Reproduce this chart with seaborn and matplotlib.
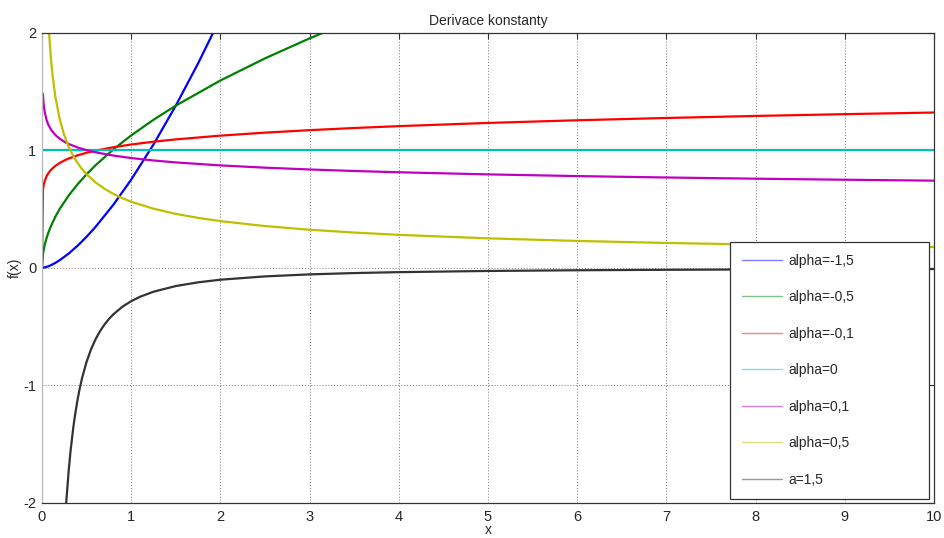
import matplotlib
matplotlib.use("Agg")
import matplotlib.pyplot as plt
import seaborn as sns

# ---- data ----
x_m15 = [0, 0.05, 0.1, 0.15, 0.2, 0.3, 0.4, 0.5, 0.6, 0.8, 1.0, 1.25, 1.5,
         1.75, 2.0, 2.25]
y_m15 = [0, 0.0084, 0.0238, 0.0437, 0.0673, 0.1236, 0.1903, 0.2660, 0.3497,
         0.5383, 0.7523, 1.0513, 1.3820, 1.7416, 2.1277, 2.539]

x_m05 = [0, 0.01, 0.02, 0.03, 0.05, 0.07, 0.1, 0.15, 0.2, 0.3, 0.4, 0.5, 0.6,
         0.8, 1.0, 1.25, 1.5, 2.0, 2.5, 3.0, 3.5]
y_m05 = [0, 0.1128, 0.1596, 0.1955, 0.2523, 0.2986, 0.3568, 0.4370, 0.5046,
         0.6180, 0.7137, 0.7979, 0.8741, 1.0093, 1.1284, 1.2616, 1.3820,
         1.5958, 1.7841, 1.9544, 2.1110]

x_m01 = [0, 0.01, 0.02, 0.03, 0.05, 0.07, 0.1, 0.15, 0.2, 0.25, 0.3, 0.4,
         0.5, 0.6, 0.8, 1.0, 1.25, 1.5, 2.0, 2.5, 3.0, 3.5, 4, 5, 6, 7, 8, 9,
         10]
y_m01 = [0, 0.6632, 0.7108, 0.7402, 0.7790, 0.8057, 0.8349, 0.8695, 0.8948,
         0.9150, 0.9319, 0.9590, 0.9807, 0.9987, 1.0279, 1.0511, 1.0748,
         1.0946, 1.1265, 1.1520, 1.1731, 1.1914, 1.2074, 1.2346, 1.2573,
         1.2768, 1.2940, 1.3093, 1.3232]

x_0 = [0, 10]
y_0 = [1, 1]

x_p01 = [0.01, 0.015, 0.02, 0.03, 0.05, 0.07, 0.1, 0.15, 0.2, 0.25, 0.3, 0.4,
         0.5, 0.6, 0.8, 1.0, 1.25, 1.5, 2.0, 2.5, 3.0, 3.5, 4, 5, 6, 7, 8, 9,
         10]
y_p01 = [1.4832, 1.4242, 1.3839, 1.3289, 1.2627, 1.2208, 1.1781, 1.1313,
         1.0993, 1.0750, 1.0555, 1.0256, 1.0030, 0.9848, 0.9569, 0.9358,
         0.9151, 0.8986, 0.8731, 0.8538, 0.8385, 0.8256, 0.8147, 0.7967,
         0.7823, 0.7703, 0.7601, 0.7512, 0.7433]

x_p05 = [0.05, 0.06, 0.07, 0.08, 0.09, 0.1, 0.12, 0.15, 0.2, 0.25, 0.3, 0.35,
         0.4, 0.45, 0.5, 0.6, 0.7, 0.8, 0.9, 1.0, 1.25, 1.5, 1.75, 2.0, 2.5,
         3.0, 3.5, 4, 5, 6, 7, 8, 9, 10]
y_p05 = [2.5231, 2.3033, 2.1324, 1.9947, 1.8806, 1.7841, 1.6287, 1.4567,
         1.2616, 1.1284, 1.0300, 0.9536, 0.8920, 0.8410, 0.7979, 0.7284,
         0.6743, 0.6308, 0.5947, 0.5642, 0.5046, 0.4607, 0.4265, 0.3989,
         0.3568, 0.3257, 0.3016, 0.2821, 0.2523, 0.2303, 0.2132, 0.1995,
         0.1881, 0.1784]

x_a15 = [0.25, 0.27, 0.3, 0.32, 0.35, 0.37, 0.4, 0.42, 0.45, 0.5, 0.55, 0.6,
         0.65, 0.7, 0.75, 0.8, 0.9, 1.0, 1.1, 1.25, 1.5, 1.75, 2.0, 2.5, 3.0,
         3.5, 4, 5, 6, 7, 8, 9, 10]
y_a15 = [-2.2568, -2.0107, -1.7168, -1.5584, -1.3624, -1.2534, -1.1151,
         -1.0364, -0.9345, -0.7979, -0.6916, -0.6070, -0.5383, -0.4817,
         -0.4343, -0.3942, -0.3304, -0.2821, -0.2445, -0.2018, -0.1536,
         -0.1219, -0.0997, -0.0714, -0.0543, -0.0431, -0.0353, -0.0252,
         -0.0192, -0.0152, -0.0125, -0.0104, -0.0089]

series = [
    ("alpha=-1,5", x_m15, y_m15, "#0000ff"),
    ("alpha=-0,5", x_m05, y_m05, "#008000"),
    ("alpha=-0,1", x_m01, y_m01, "#ff0000"),
    ("alpha=0", x_0, y_0, "#00bfbf"),
    ("alpha=0,1", x_p01, y_p01, "#bf00bf"),
    ("alpha=0,5", x_p05, y_p05, "#bfbf00"),
    ("a=1,5", x_a15, y_a15, "#333333"),
]

x_ticks = list(range(0, 11))
y_ticks = [-2, -1, 0, 1, 2]

# ---- plot ----
sns.set_style("white")
plt.rcParams["font.family"] = ["Liberation Sans", "DejaVu Sans"]
plt.rcParams["axes.unicode_minus"] = False
plt.rcParams["lines.solid_capstyle"] = "round"
plt.rcParams["lines.solid_joinstyle"] = "round"

fig = plt.figure(figsize=(9.44, 5.38), dpi=100)
ax = fig.add_axes([42 / 944, 1 - 503 / 538, (934 - 42) / 944, (503 - 33) / 538])

for label, xs, ys, col in series:
    sns.lineplot(x=xs, y=ys, ax=ax, color=col, label=label, linewidth=1.6,
                 estimator=None, sort=False)

ax.set_xlim(0, 10)
ax.set_ylim(-2, 2)
ax.set_xticks(x_ticks)
ax.set_yticks(y_ticks)
ax.grid(True, linestyle=(0, (1, 2)), color="#777777", linewidth=0.7)
ax.tick_params(direction="in", length=4, top=True, right=True, labelsize=10.5,
               color="#333333")
ax.tick_params(axis="x", pad=5)
ax.tick_params(axis="y", pad=4)
for sp in ax.spines.values():
    sp.set_color("#333333")
    sp.set_linewidth(0.9)
ax.spines["left"].set_color("#b8b8b8")

ax.set_title("Derivace konstanty", fontsize=10, pad=6)
ax.set_xlabel("x", fontsize=10, labelpad=-1)
ax.set_ylabel("f(x)", fontsize=10, labelpad=1)

leg = ax.legend(loc="upper left",
                bbox_to_anchor=(730 / 944, 1 - 242 / 538, 199 / 944, 0.0),
                bbox_transform=fig.transFigure, mode="expand",
                fontsize=10, frameon=True, fancybox=False, framealpha=1,
                edgecolor="#333333", handlelength=2.9, handletextpad=0.45,
                labelspacing=1.62, borderpad=0.85, borderaxespad=0)
leg.get_frame().set_linewidth(0.9)
for h in leg.get_lines():
    h.set_alpha(0.5)
    h.set_linewidth(1.0)

fig.savefig("out.png", dpi=100)
